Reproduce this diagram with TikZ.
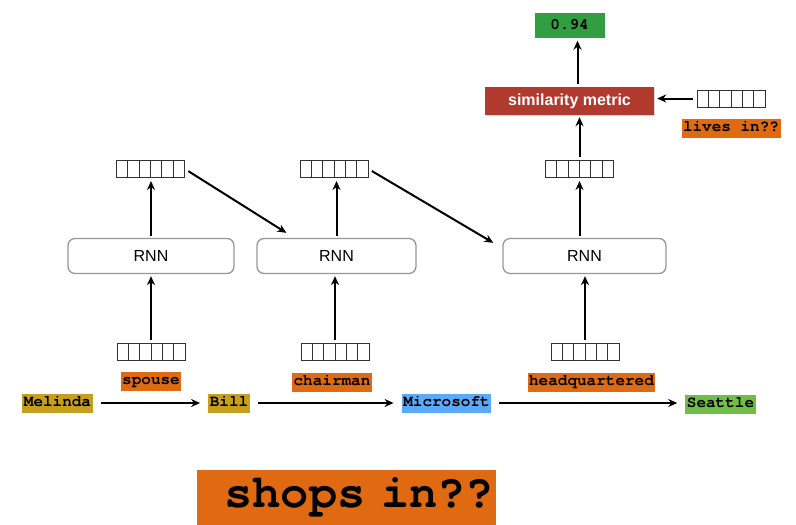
\documentclass[tikz,border=0pt]{standalone}
\usepackage{fontspec}
\setmainfont{Liberation Sans}
\newfontfamily\monof{TeX Gyre Cursor}
\usetikzlibrary{arrows.meta,calc,shadows}
\definecolor{orangeL}{RGB}{224,106,18}
\definecolor{goldL}{RGB}{200,158,32}
\definecolor{blueL}{RGB}{90,170,250}
\definecolor{greenL}{RGB}{112,190,70}
\definecolor{greenD}{RGB}{50,158,66}
\definecolor{redL}{RGB}{176,58,46}
\definecolor{boxgray}{RGB}{150,150,150}
\tikzset{
  arr/.style={-{Stealth[length=9pt,width=8pt]}, line width=2pt},
  lab/.style={font=\monof\bfseries\fontsize{16}{16}\selectfont, inner xsep=1.5pt, inner ysep=0pt, text height=9.5pt, text depth=3pt, minimum height=19pt},
  rnn/.style={draw=boxgray, line width=1.3pt, rounded corners=7pt, minimum height=35pt, font=\fontsize{16}{16}\selectfont},
  vec/.style={draw=black!80, line width=0.9pt, minimum width=68pt, minimum height=17pt, inner sep=0pt,
    path picture={\foreach \i in {1,...,5}{\draw[black!80,line width=0.9pt]
      ($(path picture bounding box.south west)!\i/6!(path picture bounding box.south east)$) --
      ($(path picture bounding box.north west)!\i/6!(path picture bounding box.north east)$);}}},
  metric/.style={fill=redL, text=white, minimum width=169pt, minimum height=28pt, font=\bfseries\fontsize{16}{16}\selectfont, drop shadow={shadow xshift=1pt, shadow yshift=-1pt, opacity=0.3}},
  score/.style={fill=greenD, minimum width=70pt, minimum height=25pt, font=\monof\bfseries\fontsize{16}{16}\selectfont}
}
\begin{document}
\begin{tikzpicture}[x=1pt,y=1pt]
\useasboundingbox (0,0) rectangle (796,-525);
% RNN boxes
\node[rnn, minimum width=166pt] (r1) at (151,-256) {RNN};
\node[rnn, minimum width=159pt] (r2) at (336.5,-256) {RNN};
\node[rnn, minimum width=163pt] (r3) at (584.5,-256) {RNN};
% vectors
\node[vec] (t1) at (150.5,-169) {};
\node[vec] (t2) at (334,-169) {};
\node[vec] (t3) at (579.5,-169) {};
\node[vec] (b1) at (151,-351.5) {};
\node[vec] (b2) at (335,-351.5) {};
\node[vec] (b3) at (585,-351.5) {};
\node[vec] (lv) at (731,-98.5) {};
% top
\node[metric] (sm) at (569.5,-101) {similarity metric};
\node[score] (sc) at (569.5,-25) {0.94};
\node[lab, fill=orangeL] (li) at (731,-128) {lives in??};
% relation labels
\node[lab, fill=orangeL] (sp) at (151,-381) {spouse};
\node[lab, fill=orangeL] (ch) at (332,-382.5) {chairman};
\node[lab, fill=orangeL] (hq) at (591.5,-382) {headquartered};
% entities
\node[lab, fill=goldL] (mel) at (57.5,-403) {Melinda};
\node[lab, fill=goldL] (bill) at (229,-403) {Bill};
\node[lab, fill=blueL] (ms) at (446.5,-403) {Microsoft};
\node[lab, fill=greenL] (se) at (720.5,-404) {Seattle};
% shops in
\node[fill=orangeL, minimum width=299pt, minimum height=55pt, text width=295pt, align=right, inner xsep=2pt, inner ysep=5pt,
  font=\monof\bfseries\fontsize{47}{47}\selectfont] (shop) at (346.5,-497.5) {shops in??};
% arrows bottom vec -> RNN
\draw[arr, shorten <=3pt, shorten >=2pt] (b1.north) -- (b1.north |- r1.south);
\draw[arr, shorten <=3pt, shorten >=2pt] (b2.north) -- (b2.north |- r2.south);
\draw[arr, shorten <=3pt, shorten >=2pt] (b3.north) -- (b3.north |- r3.south);
% RNN -> top vec
\draw[arr, shorten <=2pt, shorten >=3pt] (r1.north) -- (r1.north |- t1.south);
\draw[arr, shorten <=2pt, shorten >=3pt] (r2.north) -- (r2.north |- t2.south);
\draw[arr, shorten <=2pt, shorten >=3pt] (t3.south |- r3.north) -- (t3.south);
% recurrent diagonals
\draw[arr, shorten <=4pt] (t1.east) -- ($(r2.north west)+(30,5)$);
\draw[arr, shorten <=4pt] (t2.east) -- ($(r3.north west)+(-9,-5)$);
% to metric
\draw[arr, shorten <=3pt, shorten >=2pt] (t3.north) -- (t3.north |- sm.south);
\draw[arr, shorten <=3pt, shorten >=3pt] ($(sm.north)+(8,0)$) -- ($(sc.south)+(8,0)$);
\draw[arr, shorten <=4pt, shorten >=3pt] (lv.west) -- (lv.west -| sm.east);
% entity arrows
\draw[arr, shorten <=8pt, shorten >=8pt] (mel.east) -- (bill.west);
\draw[arr, shorten <=8pt, shorten >=8pt] (bill.east) -- (ms.west);
\draw[arr, shorten <=8pt, shorten >=8pt] (ms.east) -- (ms.east -| se.west);
\end{tikzpicture}
\end{document}
